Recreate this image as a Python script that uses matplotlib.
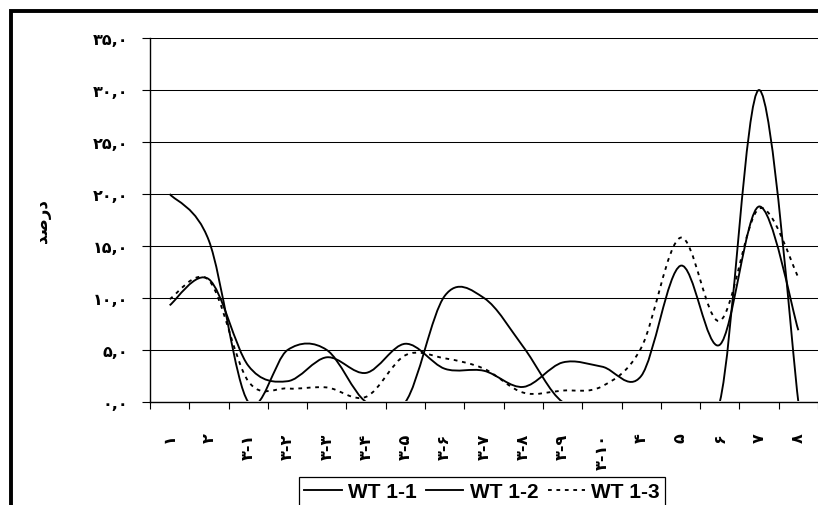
import numpy as np
import matplotlib.pyplot as plt
from matplotlib.path import Path
from matplotlib.patches import PathPatch, Rectangle
from matplotlib.lines import Line2D

# categories (Persian labels) and percentage values
categories = ["۱", "۲", "۳-۱", "۳-۲", "۳-۳", "۳-۴", "۳-۵", "۳-۶", "۳-۷",
              "۳-۸", "۳-۹", "۳-۱۰", "۴", "۵", "۶", "۷", "۸"]
wt_1_1 = [20.0, 15.5, 0.0, 5.0, 5.0, 0.0, 0.0, 10.2, 10.0, 5.3,
          0.0, 0.0, 0.0, 0.0, 0.0, 30.0, 0.0]
wt_1_2 = [9.3, 11.8, 3.5, 2.0, 4.3, 2.8, 5.6, 3.2, 3.0, 1.45,
          3.8, 3.4, 2.5, 13.1, 5.5, 18.8, 6.9]
wt_1_3 = [9.9, 11.7, 2.0, 1.3, 1.4, 0.5, 4.5, 4.2, 3.2, 0.9,
          1.1, 1.5, 5.2, 15.8, 7.8, 18.6, 12.0]
series_names = ["WT 1-1", "WT 1-2", "WT 1-3"]

y_ticks = np.arange(0, 36, 5)
y_labels = ["۰,۰", "۵,۰", "۱۰,۰", "۱۵,۰", "۲۰,۰", "۲۵,۰", "۳۰,۰", "۳۵,۰"]
y_title = "\ufeaa\ufebb\ufead\ufea9"  # درصد in visual (presentation-form) order


def smooth_path(y):
    # Excel-like smoothed line: cubic Bezier through every point
    x = np.arange(len(y), dtype=float)
    pts = np.column_stack([x, np.asarray(y, dtype=float)])
    ext = np.vstack([pts[0], pts, pts[-1]])
    verts = [pts[0]]
    codes = [Path.MOVETO]
    for i in range(len(pts) - 1):
        p0, p1, p2, p3 = ext[i], ext[i + 1], ext[i + 2], ext[i + 3]
        verts += [p1 + (p2 - p0) / 6, p2 - (p3 - p1) / 6, p2]
        codes += [Path.CURVE4] * 3
    return Path(verts, codes)


fig = plt.figure(figsize=(8.18, 5.06), dpi=100)
ax = fig.add_axes([150 / 818, 103 / 506, 668 / 818, 364 / 506])
n = len(categories)

styles = [dict(color="black", lw=1.35, ls="-"),
          dict(color="black", lw=1.35, ls="-"),
          dict(color="black", lw=1.35, ls=(0, (2, 2.5)))]

for vals, st in zip([wt_1_1, wt_1_2, wt_1_3], styles):
    patch = PathPatch(smooth_path(vals), fill=False, edgecolor=st["color"],
                      lw=st["lw"], linestyle=st["ls"], zorder=2.2)
    ax.add_patch(patch)
    # values on the zero line hide behind the axis, as in the original chart
    clip = Rectangle((-0.5, 0.12), n, 40, transform=ax.transData)
    patch.set_clip_path(clip)

ax.set_xlim(-0.5, n - 0.5)
ax.set_ylim(0, 35)

ax.set_yticks(y_ticks)
ax.set_yticklabels(y_labels, fontsize=11.5, fontweight="bold", family="DejaVu Sans")
ax.tick_params(axis="y", length=6, width=0.8, direction="out", pad=10)
ax.yaxis.grid(True, color="black", lw=0.75)
ax.set_axisbelow(True)

ax.set_xticks(np.arange(n))
ax.set_xticklabels(categories, rotation=90, fontsize=11.5, fontweight="bold",
                   family="DejaVu Sans", va="top", ha="center")
ax.tick_params(axis="x", which="major", length=0, pad=22)
ax.set_xticks(np.arange(n + 1) - 0.5, minor=True)
ax.tick_params(axis="x", which="minor", length=5, width=0.8, direction="out")

for s in ["top", "right"]:
    ax.spines[s].set_visible(False)
for s in ["left", "bottom"]:
    ax.spines[s].set_linewidth(1.0)
    ax.spines[s].set_zorder(3)

ax.set_ylabel(y_title, fontsize=12, fontweight="bold", family="DejaVu Sans",
              rotation=90)
ax.yaxis.set_label_coords(-0.148, 0.5)

handles = [Line2D([], [], color=st["color"], lw=st["lw"], ls=st["ls"])
           for st in styles]
leg = fig.legend(handles, series_names, loc="upper center",
                 bbox_to_anchor=(482 / 818, 1 - 478 / 506), ncol=3,
                 frameon=True, fancybox=False, edgecolor="black",
                 framealpha=1, borderpad=0.25, borderaxespad=0,
                 handlelength=1.8, handletextpad=0.3, columnspacing=0.45,
                 prop=dict(family="Liberation Sans", weight="bold", size=15))
leg.get_frame().set_linewidth(0.9)

# thick outer frame of the chart area (runs off the image to the right and bottom)
fig.patches.append(Rectangle((10.5 / 818, -0.5), 2.0, 0.5 + (506 - 12) / 506,
                             transform=fig.transFigure, fill=False,
                             edgecolor="black", lw=2.8))

fig.savefig("out.png", dpi=100)
